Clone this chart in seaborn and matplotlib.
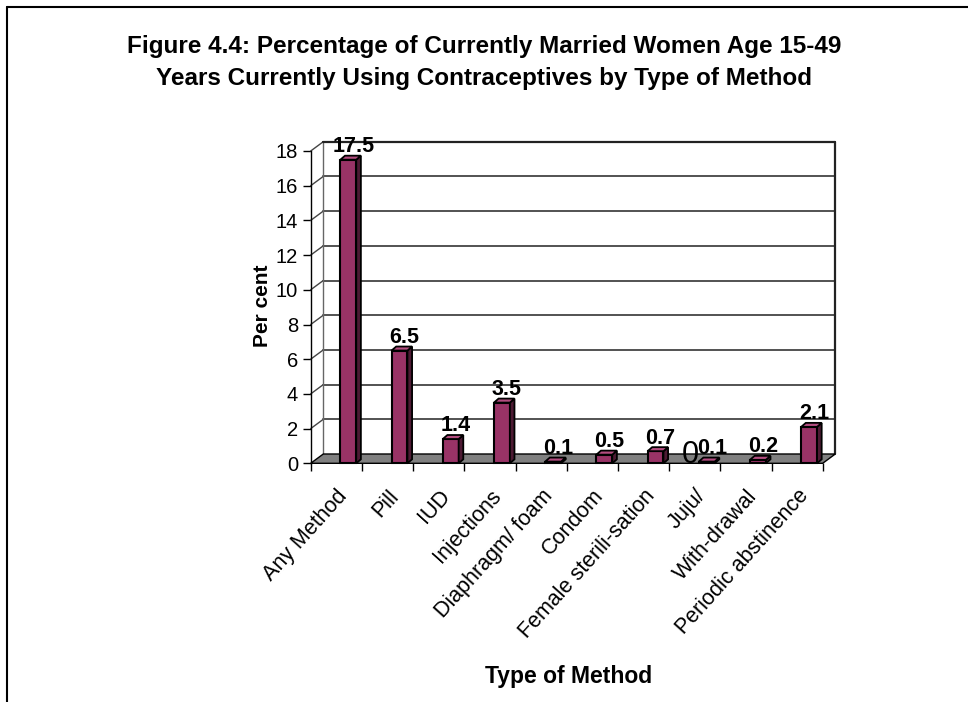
import matplotlib
matplotlib.use("Agg")
import matplotlib.pyplot as plt
from matplotlib.patches import Polygon
from matplotlib.lines import Line2D
from matplotlib.transforms import ScaledTranslation
import seaborn as sns
import pandas as pd

# ---- data ----
methods = ["Any Method", "Pill", "IUD", "Injections", "Diaphragm/ foam",
           "Condom", "Female sterili-sation", "Juju/", "With-drawal",
           "Periodic abstinence"]
values = [17.5, 6.5, 1.4, 3.5, 0.1, 0.5, 0.7, 0.1, 0.2, 2.1]
yticks = [0, 2, 4, 6, 8, 10, 12, 14, 16, 18]
title_lines = ["Figure 4.4: Percentage of Currently Married Women Age 15-49",
               "Years Currently Using Contraceptives by Type of Method"]
xlabel = "Type of Method"
ylabel = "Per cent"
stray_label = "0"

df = pd.DataFrame({"method": methods, "value": values})

sns.set_theme(style="white")
plt.rcParams["font.family"] = ["Liberation Sans", "DejaVu Sans"]
for k in ["text.color", "axes.labelcolor", "xtick.color", "ytick.color"]:
    plt.rcParams[k] = "black"

W, H = 968, 702
fig = plt.figure(figsize=(W / 100, H / 100), dpi=100)
ax = fig.add_axes([310.7 / W, 1 - 463.3 / H, 512 / W, 312.3 / H])

bar_color = "#993366"
side_color = "#4d1a33"
top_color = "#b34d80"

# 3D depth of the walls (in data units)
ddx, ddy = 0.246, 0.536
# 3D depth of bars
bx, by = 0.09, 0.23
shift = 0.235
bw = 0.31

xmin, xmax = -0.5, len(methods) - 0.5
ymax = yticks[-1]

# back wall
ax.add_patch(Polygon([(xmin + ddx, ddy), (xmax + ddx, ddy), (xmax + ddx, ymax + ddy),
                      (xmin + ddx, ymax + ddy)], closed=True, facecolor="white",
                     edgecolor="none", zorder=0, clip_on=False))
for t in yticks[1:]:
    ax.add_line(Line2D([xmin + ddx, xmax + ddx], [t + ddy, t + ddy], color="#444444",
                       lw=1.3, zorder=1, clip_on=False))
    ax.add_line(Line2D([xmin, xmin + ddx], [t, t + ddy], color="#444444",
                       lw=1.0, zorder=1, clip_on=False))
ax.add_line(Line2D([xmin + ddx, xmin + ddx], [ddy, ymax + ddy], color="#666666",
                   lw=1.0, zorder=1, clip_on=False))
ax.add_line(Line2D([xmax + ddx, xmax + ddx], [ddy, ymax + ddy], color="#222222",
                   lw=1.6, zorder=1, clip_on=False))
ax.add_line(Line2D([xmin + ddx, xmax + ddx], [ymax + ddy, ymax + ddy], color="#222222",
                   lw=1.6, zorder=1, clip_on=False))
# floor
ax.add_patch(Polygon([(xmin, 0), (xmax, 0), (xmax + ddx, ddy), (xmin + ddx, ddy)],
                     closed=True, facecolor="#808080", edgecolor="black", lw=1.0,
                     zorder=2, clip_on=False))

sns.barplot(data=df, x="method", y="value", color=bar_color, width=bw,
            edgecolor="black", linewidth=1.5, saturation=1, ax=ax, zorder=4)

bars = list(ax.containers[0])
for p, v in zip(bars, values):
    p.set_x(p.get_x() + shift)
    p.set_clip_on(False)
    x0 = p.get_x()
    x1 = x0 + p.get_width()
    h = p.get_height()
    ax.add_patch(Polygon([(x1, 0), (x1 + bx, by), (x1 + bx, h + by), (x1, h)],
                         closed=True, facecolor=side_color, edgecolor="black",
                         lw=1.3, zorder=4, clip_on=False))
    ax.add_patch(Polygon([(x0, h), (x0 + bx, h + by), (x1 + bx, h + by), (x1, h)],
                         closed=True, facecolor=top_color, edgecolor="black",
                         lw=1.3, zorder=4, clip_on=False))
    ax.annotate(f"{v:g}", xy=((x0 + x1 + bx) / 2, h + by), xytext=(2, -1),
                textcoords="offset points", ha="center", va="bottom",
                fontsize=15.5, fontweight="bold", color="black", zorder=6)

ji = methods.index("Juju/")
ax.text(ji - 0.09, 0.45, stray_label, ha="center", va="center", fontsize=22,
        color="black", zorder=7)

ax.set_xlim(xmin, xmax)
ax.set_ylim(0, ymax)
ax.set_yticks(yticks)
ax.set_yticklabels([str(t) for t in yticks], fontsize=14.5)
ax.set_xticks([i + 0.5 for i in range(-1, len(methods))], minor=False)
ax.set_xticklabels([""] * (len(methods) + 1))
ax.set_xticks(range(len(methods)), minor=True)
ax.set_xticklabels(methods, minor=True, rotation=48, ha="right", va="top",
                   rotation_mode="anchor", fontsize=15.5)
offset = ScaledTranslation(-5 / 100, 0, fig.dpi_scale_trans)
for lab in ax.get_xticklabels(minor=True):
    lab.set_transform(lab.get_transform() + offset)
ax.tick_params(axis="x", which="minor", length=0, pad=16)
ax.tick_params(axis="x", which="major", length=6, width=1, color="black",
               direction="out", bottom=True)
ax.tick_params(axis="y", length=6, width=1, color="black", direction="out",
               left=True, pad=3)
for s in ["top", "right"]:
    ax.spines[s].set_visible(False)
ax.spines["left"].set_color("black")
ax.spines["left"].set_linewidth(1.0)
ax.spines["bottom"].set_visible(False)
ax.patch.set_alpha(0)
ax.set_xlabel("")
ax.set_ylabel("")

fig.text(263 / W, 1 - 306 / H, ylabel, rotation=90, ha="center", va="center",
         fontsize=15, fontweight="bold")
fig.text(569 / W, 1 - 676 / H, xlabel, ha="center", va="center",
         fontsize=16.5, fontweight="bold")
fig.text(484 / W, 1 - 47 / H, title_lines[0], ha="center", va="center",
         fontsize=17.5, fontweight="bold")
fig.text(484 / W, 1 - 78 / H, title_lines[1], ha="center", va="center",
         fontsize=17.5, fontweight="bold")

# figure border (top and left)
fig.add_artist(Line2D([7 / W, 1], [1 - 7 / H, 1 - 7 / H], transform=fig.transFigure,
                      color="black", lw=1.5))
fig.add_artist(Line2D([7 / W, 7 / W], [0, 1 - 7 / H], transform=fig.transFigure,
                      color="black", lw=1.5))

fig.savefig("out.png", dpi=100, facecolor="white")
